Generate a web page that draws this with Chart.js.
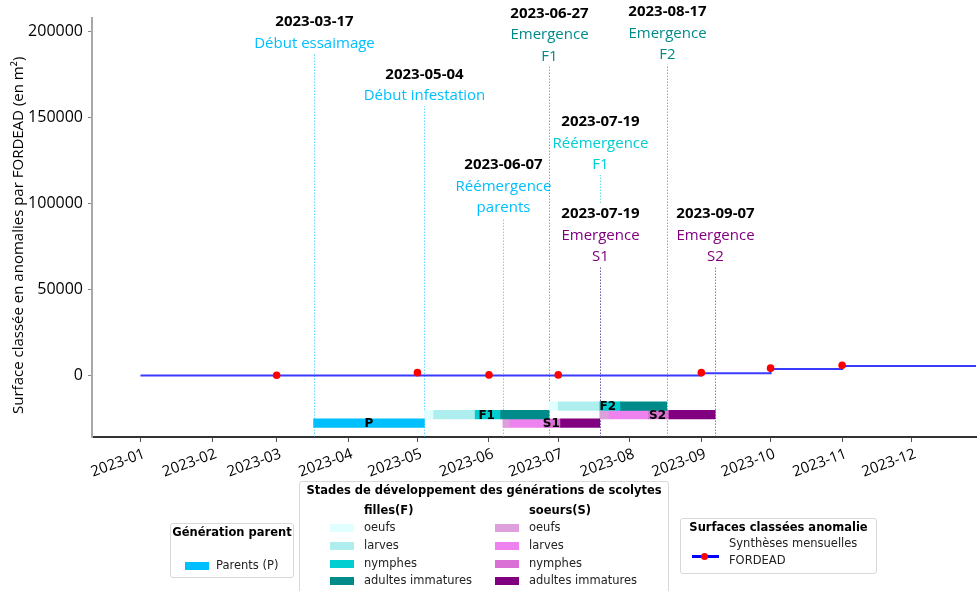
<!DOCTYPE html>
<html>
<head>
<meta charset="utf-8">
<script src="https://cdn.jsdelivr.net/npm/chart.js@4.4.1/dist/chart.umd.min.js"></script>
<style>
  body { margin: 0; background: #fff; }
  #wrap { position: relative; width: 980px; height: 591px; overflow: hidden; }
  #chart { position: absolute; left: 0; top: 0; }
  .lg { position: absolute; font-family: 'DejaVu Sans', sans-serif; font-size: 11.5px; color: #222; white-space: nowrap; line-height: 1; }
  .box { position: absolute; border: 1px solid #d8d8d8; border-radius: 3px; background: #fff; }
  .ttl { font-weight: bold; color: #000; font-size: 11.5px; }
  .sw { position: absolute; width: 24px; height: 8px; }
</style>
</head>
<body>
<div id="wrap">
  <canvas id="chart" width="980" height="591"></canvas>

  <div class="box" style="left:170px;top:523px;width:122px;height:53px;"></div>
  <div class="lg ttl" style="left:170px;top:527px;width:124px;text-align:center;">Génération parent</div>
  <div class="sw" style="left:185px;top:562px;background:#00bfff;"></div>
  <div class="lg" style="left:216px;top:560px;">Parents (P)</div>

  <div class="box" style="left:299px;top:481px;width:368px;height:130px;"></div>
  <div class="lg ttl" style="left:299px;top:485px;width:370px;text-align:center;">Stades de développement des générations de scolytes</div>
  <div class="lg ttl" style="left:364px;top:505px;">filles(F)</div>
  <div class="lg ttl" style="left:529px;top:505px;">soeurs(S)</div>
  <div id="legF"></div>
  <div id="legS"></div>

  <div class="box" style="left:680px;top:518px;width:195px;height:54px;"></div>
  <div class="lg ttl" style="left:680px;top:522px;width:197px;text-align:center;">Surfaces classées anomalie</div>
  <div style="position:absolute;left:692px;top:555px;width:27px;height:3px;background:#0000ff;"></div>
  <div style="position:absolute;left:701px;top:553px;width:7px;height:7px;border-radius:50%;background:#ff0000;"></div>
  <div class="lg" style="left:729px;top:538px;">Synthèses mensuelles</div>
  <div class="lg" style="left:729px;top:555px;">FORDEAD</div>
</div>
<script>
// FORDEAD monthly syntheses (m2)
const lineDates = ['2023-01-01', '2023-09-01', '2023-10-01', '2023-11-01', '2023-12-31'];
const lineValues = [200, 1600, 4000, 5800, 5800];
const dotDates = ['2023-03-01', '2023-05-01', '2023-06-01', '2023-07-01', '2023-09-01', '2023-10-01', '2023-11-01'];
const dotValues = [400, 1900, 600, 600, 1900, 4500, 6200];

// development stages, boundaries of each stage (start ... end)
const stageNames = ['oeufs', 'larves', 'nymphes', 'adultes immatures'];
const genNames = ['P', 'F1', 'S1', 'F2', 'S2'];
const genRows = [-27500, -22500, -27500, -17500, -22500];
const datesP = ['2023-03-17', '2023-05-04'];
const datesF1 = ['2023-05-04', '2023-05-08', '2023-05-26', '2023-06-06', '2023-06-27'];
const datesS1 = ['2023-06-07', '2023-06-10', '2023-06-25', '2023-07-02', '2023-07-19'];
const datesF2 = ['2023-06-27', '2023-07-01', '2023-07-19', '2023-07-28', '2023-08-17'];
const datesS2 = ['2023-07-19', '2023-07-23', '2023-08-09', '2023-08-18', '2023-09-07'];

// events
const eventDates = ['2023-03-17', '2023-05-04', '2023-06-07', '2023-06-27', '2023-07-19', '2023-07-19', '2023-08-17', '2023-09-07'];
const eventTexts = [['Début essaimage'], ['Début infestation'], ['Réémergence', 'parents'], ['Emergence', 'F1'],
    ['Réémergence', 'F1'], ['Emergence', 'S1'], ['Emergence', 'F2'], ['Emergence', 'S2']];
const eventTops = [188500, 158000, 93000, 181000, 118000, 64500, 182000, 64500];

const yTicks = [0, 50000, 100000, 150000, 200000];
const monthTicks = ['2023-01-01', '2023-02-01', '2023-03-01', '2023-04-01', '2023-05-01', '2023-06-01',
    '2023-07-01', '2023-08-01', '2023-09-01', '2023-10-01', '2023-11-01', '2023-12-01'];

const colP = '#00bfff';
const colF = ['#e0ffff', '#afeeee', '#00ced1', '#008b8b'];
const colS = ['#dda0dd', '#ee82ee', '#da70d6', '#800080'];
const eventColors = ['#00bfff', '#00bfff', '#00bfff', '#008b8b', '#00ced1', '#800080', '#008b8b', '#800080'];

const t = s => Date.parse(s + 'T00:00:00Z');

// html legend rows
function legendRows(el, colors, swX, txX) {
    let html = '';
    stageNames.forEach((name, i) => {
        const y = 524 + i * 17.8;
        html += `<div class="sw" style="left:${swX}px;top:${y}px;background:${colors[i]}"></div>`;
        html += `<div class="lg" style="left:${txX}px;top:${y - 2}px;">${name}</div>`;
    });
    document.getElementById(el).innerHTML = html;
}
legendRows('legF', colF, 330, 364);
legendRows('legS', colS, 495, 529);

function genDataset(dates, row, colors) {
    const data = [];
    for (let i = 0; i < dates.length - 1; i++) {
        data.push({ x: [t(dates[i]), t(dates[i + 1])], y: row });
    }
    return {
        type: 'bar',
        indexAxis: 'y',
        data: data,
        backgroundColor: colors.slice(0, data.length),
        barThickness: 8.6,
        grouped: false,
        borderWidth: 0,
        order: 3
    };
}

const genDates = [datesP, datesF1, datesS1, datesF2, datesS2];
const genColors = [[colP], colF, colS, colF, colS];

const eventPlugin = {
    id: 'events',
    beforeDatasetsDraw(chart) {
        const { ctx, chartArea, scales: { x, y } } = chart;
        ctx.save();
        eventDates.forEach((d, i) => {
            const px = Math.round(x.getPixelForValue(t(d))) + 0.5;
            const top = y.getPixelForValue(eventTops[i]);
            ctx.strokeStyle = eventColors[i];
            ctx.globalAlpha = 0.6;
            ctx.lineWidth = 1;
            ctx.setLineDash([1.5, 1.5]);
            ctx.beginPath();
            ctx.moveTo(px, chartArea.bottom);
            ctx.lineTo(px, top);
            ctx.stroke();
            ctx.globalAlpha = 1;
            ctx.setLineDash([]);

            const lines = eventTexts[i];
            ctx.textAlign = 'center';
            ctx.textBaseline = 'middle';
            const lastY = top - 8;
            const firstY = lastY - (lines.length) * 21.5;
            // white backing so crossing lines do not run through the text
            ctx.font = '15px "Open Sans"';
            let w = 0;
            lines.forEach(l => { w = Math.max(w, ctx.measureText(l).width); });
            ctx.fillStyle = '#fff';
            ctx.fillRect(px - w / 2, firstY - 10, w, lastY - firstY + 20);
            ctx.font = 'bold 15px "Open Sans"';
            ctx.fillStyle = '#000';
            ctx.fillText(d, px, firstY);
            ctx.font = '15px "Open Sans"';
            ctx.fillStyle = eventColors[i];
            lines.forEach((l, k) => ctx.fillText(l, px, firstY + (k + 1) * 21.5));
        });
        ctx.restore();
    },
    afterDatasetsDraw(chart) {
        const { ctx, scales: { x, y } } = chart;
        ctx.save();
        ctx.font = 'bold 12px "DejaVu Sans"';
        ctx.fillStyle = '#000';
        ctx.textAlign = 'center';
        ctx.textBaseline = 'middle';
        genNames.forEach((g, i) => {
            const d = genDates[i];
            const cx = (x.getPixelForValue(t(d[0])) + x.getPixelForValue(t(d[d.length - 1]))) / 2;
            ctx.fillText(g, cx, y.getPixelForValue(genRows[i]) + 1);
        });
        ctx.restore();
    }
};

const datasets = genDates.map((d, i) => genDataset(d, genRows[i], genColors[i]));
datasets.push({
    type: 'line',
    data: lineDates.map((d, i) => ({ x: t(d), y: lineValues[i] })),
    stepped: true,
    borderColor: '#3b3bff',
    borderWidth: 2,
    pointRadius: 0,
    order: 2
});
datasets.push({
    type: 'line',
    showLine: false,
    data: dotDates.map((d, i) => ({ x: t(d), y: dotValues[i] })),
    pointRadius: 3.8,
    pointBackgroundColor: '#ff0000',
    pointBorderWidth: 0,
    order: 1
});

Chart.defaults.font.family = '"Open Sans", sans-serif';

new Chart(document.getElementById('chart').getContext('2d'), {
    data: { datasets: datasets },
    options: {
        responsive: false,
        animation: false,
        events: [],
        layout: { padding: { top: 18, left: 0, right: 0, bottom: 0 } },
        plugins: { legend: { display: false }, tooltip: { enabled: false } },
        scales: {
            x: {
                type: 'linear',
                offset: false,
                min: t('2022-12-11'),
                max: t('2023-12-29'),
                afterBuildTicks: scale => { scale.ticks = monthTicks.map(m => ({ value: t(m) })); },
                afterFit: scale => { scale.height = 154; },
                ticks: {
                    autoSkip: false,
                    minRotation: 20,
                    maxRotation: 20,
                    labelOffset: 4,
                    color: '#000',
                    font: { size: 15 },
                    padding: 3,
                    callback: v => {
                        const d = new Date(v);
                        return d.getUTCFullYear() + '-' + String(d.getUTCMonth() + 1).padStart(2, '0');
                    }
                },
                grid: { display: true, offset: false, drawOnChartArea: false, tickLength: 5, color: '#555' },
                border: { color: '#333', width: 2 }
            },
            y: {
                type: 'linear',
                offset: false,
                min: -35500,
                max: 208000,
                afterBuildTicks: scale => { scale.ticks = yTicks.map(v => ({ value: v })); },
                afterFit: scale => { scale.width = 92; },
                ticks: { color: '#000', font: { size: 16 }, padding: 5, callback: v => String(v) },
                grid: { display: true, offset: false, drawOnChartArea: false, tickLength: 4, color: '#888' },
                border: { color: '#a8a8a8', width: 2 },
                title: {
                    display: true,
                    // trailing spaces push the centred title down a little, as in the source figure
                    text: 'Surface classée en anomalies par FORDEAD (en m²)    ',
                    color: '#000',
                    font: { size: 15 },
                    padding: { top: 10, bottom: 0 }
                }
            }
        }
    },
    plugins: [eventPlugin]
});
</script>
</body>
</html>
